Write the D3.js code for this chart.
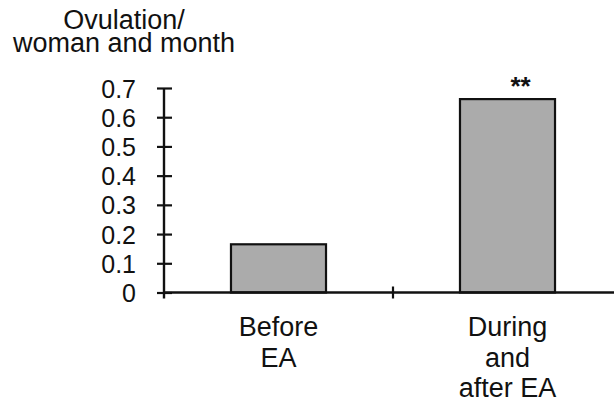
<!DOCTYPE html>
<html>
<head>
<meta charset="utf-8">
<script src="https://cdn.jsdelivr.net/npm/d3@7"></script>
<style>
  body { margin: 0; background: #fff; }
  text { font-family: "Liberation Sans", Arial, Helvetica, sans-serif; fill: #111; }
</style>
</head>
<body>
<svg id="chart" width="614" height="401"></svg>
<script>
const categories = ["Before EA", "During and after EA"];
const labelLines = [["Before", "EA"], ["During", "and", "after EA"]];
const values = [0.165, 0.662];
const yTicks = [0, 0.1, 0.2, 0.3, 0.4, 0.5, 0.6, 0.7];
const titleLines = ["Ovulation/", "woman and month"];
const marks = ["", "**"];

var svg = d3.select("#chart");

var x = d3.scaleBand()
  .domain(categories)
  .range([164, 622])
  .paddingInner(0.585)
  .paddingOuter(0.2925);

var y = d3.scaleLinear().domain([0, 0.7]).range([292.5, 88]);

// bars
svg.selectAll(".bar")
  .data(values)
  .enter()
  .append("rect")
  .attr("class", "bar")
  .attr("x", (d, i) => x(categories[i]))
  .attr("y", d => y(d))
  .attr("width", x.bandwidth())
  .attr("height", d => y(0) - y(d))
  .attr("fill", "#ababab")
  .attr("stroke", "#111")
  .attr("stroke-width", 2.2);

// y axis
var yAxis = d3.axisLeft(y)
  .tickValues(yTicks)
  .tickFormat(d => d === 0 ? "0" : d3.format(".1f")(d))
  .tickSizeInner(7)
  .tickSizeOuter(0)
  .tickPadding(21);

var yg = svg.append("g")
  .attr("transform", "translate(164,0)")
  .call(yAxis);
yg.select(".domain").attr("stroke", "#111").attr("stroke-width", 2.4)
  .attr("d", `M0,${y(0.7)}V${y(0) + 6}`);
yg.selectAll(".tick line")
  .attr("x1", 8).attr("x2", -7)
  .attr("stroke", "#111").attr("stroke-width", 2.2);
yg.selectAll(".tick text")
  .attr("dy", "0.36em")
  .style("font-size", "25px")
  .attr("fill", "#111");

// x axis line and divider tick
svg.append("line")
  .attr("x1", 164).attr("x2", 614)
  .attr("y1", y(0)).attr("y2", y(0))
  .attr("stroke", "#111").attr("stroke-width", 2.4);

svg.append("line")
  .attr("x1", x.range()[0] + x.step()).attr("x2", x.range()[0] + x.step())
  .attr("y1", y(0) - 6).attr("y2", y(0) + 6)
  .attr("stroke", "#111").attr("stroke-width", 2.2);

// category labels
labelLines.forEach((lines, i) => {
  var cx = x(categories[i]) + x.bandwidth() / 2;
  lines.forEach((t, j) => {
    svg.append("text")
      .attr("x", cx)
      .attr("y", 336 + j * 30.5)
      .attr("text-anchor", "middle")
      .style("font-size", "27px")
      .text(t);
  });
});

// significance marks
marks.forEach((m, i) => {
  if (!m) return;
  svg.append("text")
    .attr("x", x(categories[i]) + x.bandwidth() / 2 + 13)
    .attr("y", y(values[i]) - 4)
    .attr("text-anchor", "middle")
    .style("font-size", "26px")
    .style("font-weight", "bold")
    .text(m);
});

// y title
titleLines.forEach((t, j) => {
  svg.append("text")
    .attr("x", 124)
    .attr("y", 29 + j * 23)
    .attr("text-anchor", "middle")
    .style("font-size", "27px")
    .text(t);
});
</script>
</body>
</html>
